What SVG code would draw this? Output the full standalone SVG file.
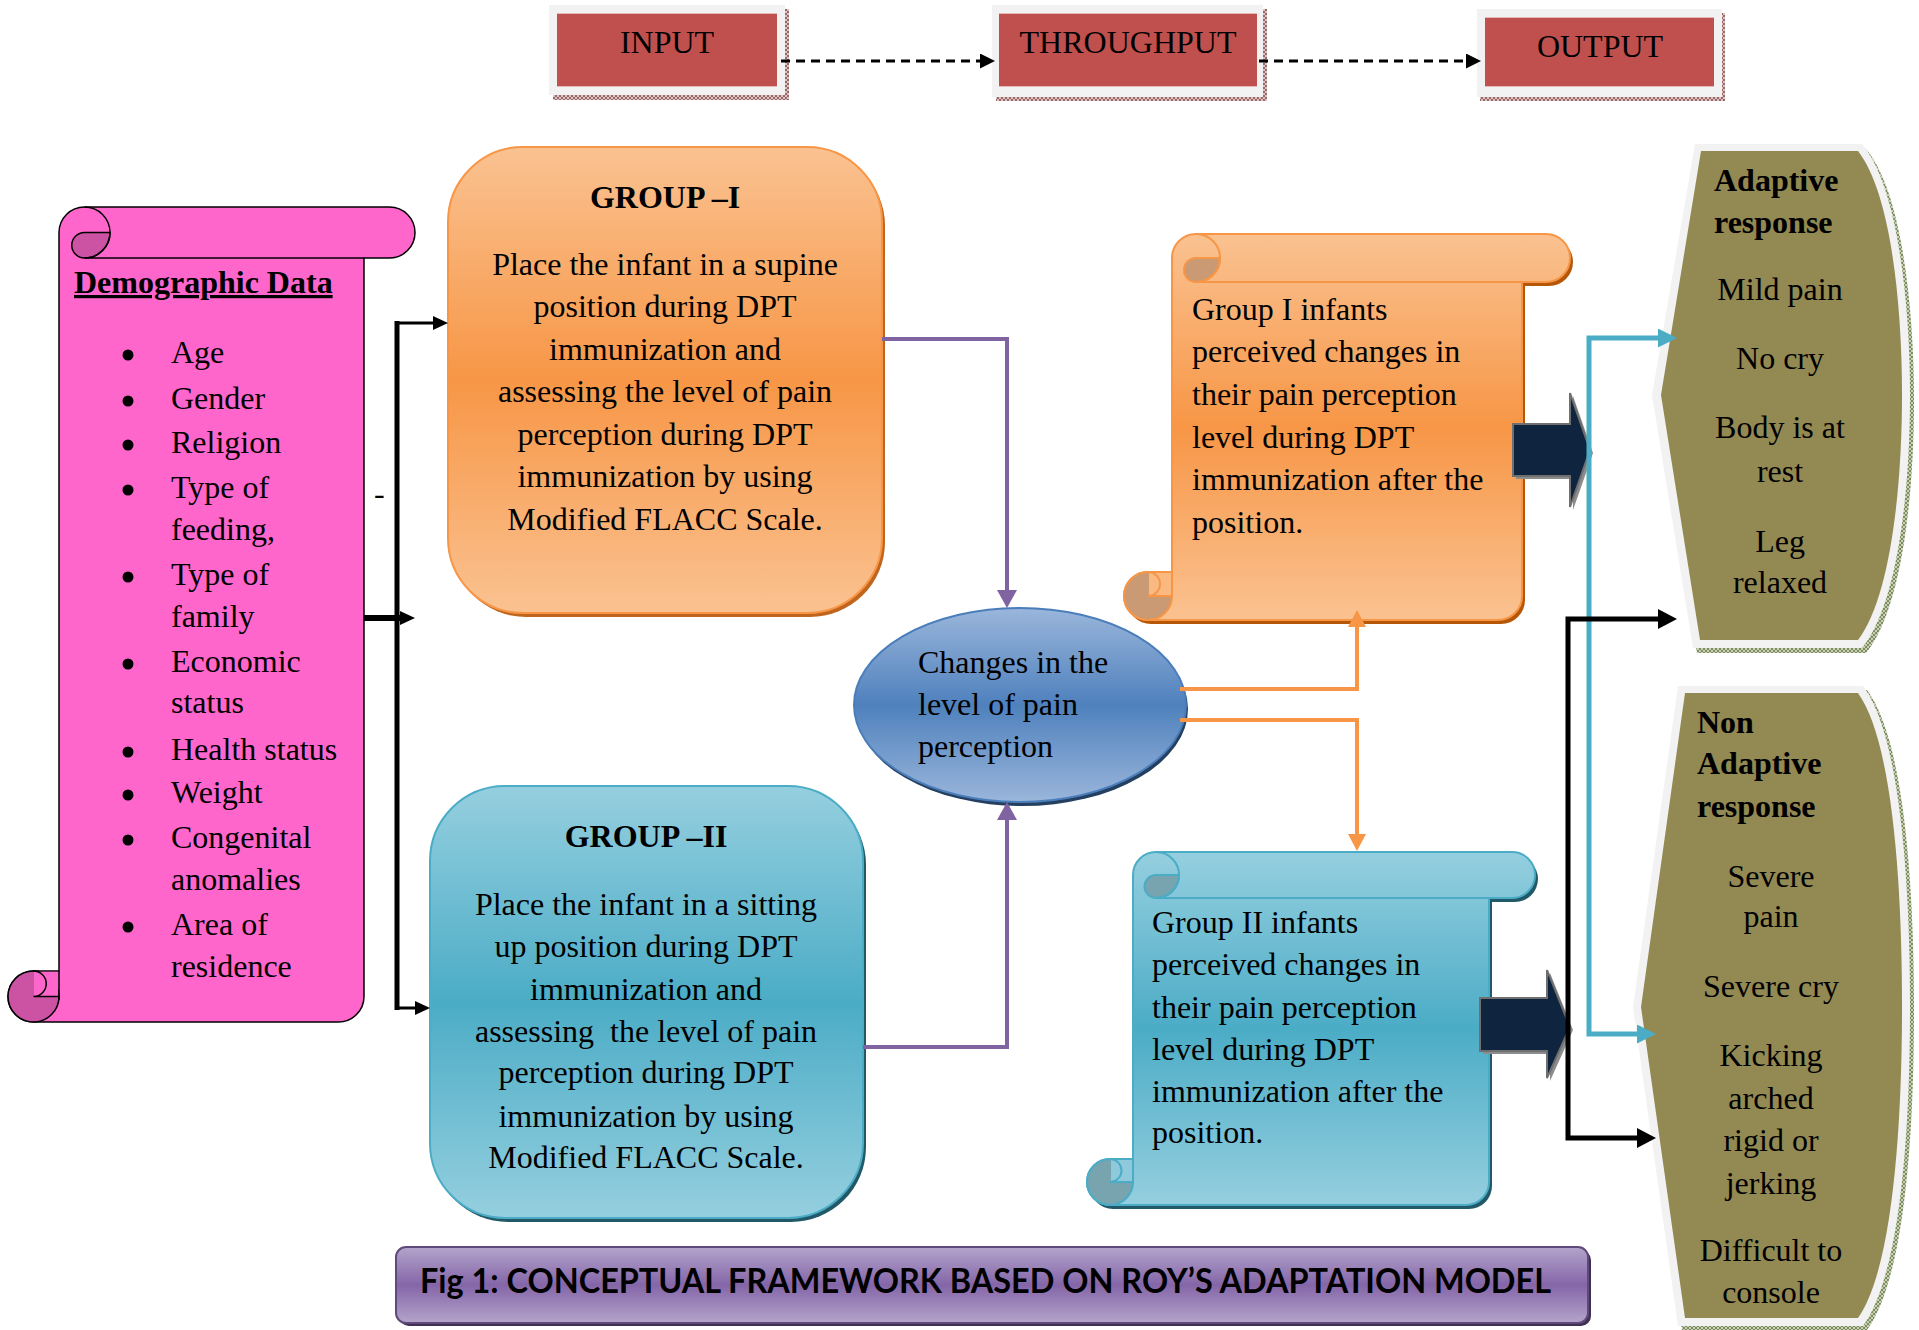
<svg xmlns="http://www.w3.org/2000/svg" width="1919" height="1330" viewBox="0 0 1919 1330">
<defs>
<style>
.t{font-family:"Liberation Serif","Times New Roman",serif;font-size:32px;fill:#000}
.b{font-weight:bold}
.c{text-anchor:middle}
.pre{white-space:pre}
.cap{font-family:Lato,"Open Sans","Liberation Sans",sans-serif;font-weight:bold;font-size:35px;fill:#000}
.conn{fill:none;stroke-linejoin:miter}
</style>
<pattern id="hatchR" width="4" height="4" patternUnits="userSpaceOnUse"><rect width="4" height="4" fill="#dcc3c3"/><path d="M0,0 L4,4 M4,0 L0,4" stroke="#8a5050" stroke-width="0.8"/></pattern>
<pattern id="hatchG" width="4" height="4" patternUnits="userSpaceOnUse"><rect width="4" height="4" fill="#c9d1b4"/><path d="M0,0 L4,4 M4,0 L0,4" stroke="#6a7a4a" stroke-width="0.8"/></pattern>
<linearGradient id="gOra" x1="0" y1="0" x2="0" y2="1"><stop offset="0" stop-color="#fac291"/><stop offset="0.5" stop-color="#f79646"/><stop offset="1" stop-color="#fac291"/></linearGradient>
<linearGradient id="gBlu" x1="0" y1="0" x2="0" y2="1"><stop offset="0" stop-color="#95cfdf"/><stop offset="0.5" stop-color="#4bacc6"/><stop offset="1" stop-color="#95cfdf"/></linearGradient>
<linearGradient id="gEll" x1="0" y1="0" x2="0" y2="1"><stop offset="0" stop-color="#9ab6db"/><stop offset="0.5" stop-color="#4f81bd"/><stop offset="1" stop-color="#9ab6db"/></linearGradient>
<linearGradient id="gPur" x1="0" y1="0" x2="0" y2="1"><stop offset="0" stop-color="#b4a4cb"/><stop offset="0.5" stop-color="#8466a8"/><stop offset="1" stop-color="#b4a4cb"/></linearGradient>
<marker id="mDash" markerUnits="userSpaceOnUse" viewBox="0 0 15 15" refX="2" refY="7.5" markerWidth="15" markerHeight="15" orient="auto"><path d="M0,0 L15,7.5 L0,15 Z" fill="#000"/></marker>
<marker id="mBlkS" markerUnits="userSpaceOnUse" viewBox="0 0 15 14" refX="2" refY="7" markerWidth="15" markerHeight="14" orient="auto"><path d="M0,0 L15,7 L0,14 Z" fill="#000"/></marker>
<marker id="mPur" markerUnits="userSpaceOnUse" viewBox="0 0 18 20" refX="2" refY="10" markerWidth="18" markerHeight="20" orient="auto"><path d="M0,0 L18,10 L0,20 Z" fill="#8064a2"/></marker>
<marker id="mOra" markerUnits="userSpaceOnUse" viewBox="0 0 17 18" refX="2" refY="9" markerWidth="17" markerHeight="18" orient="auto"><path d="M0,0 L17,9 L0,18 Z" fill="#f79646"/></marker>
<marker id="mCya" markerUnits="userSpaceOnUse" viewBox="0 0 19 19" refX="2" refY="9.5" markerWidth="19" markerHeight="19" orient="auto"><path d="M0,0 L19,9.5 L0,19 Z" fill="#4bacc6"/></marker>
<marker id="mBlkL" markerUnits="userSpaceOnUse" viewBox="0 0 19 20" refX="2" refY="10" markerWidth="19" markerHeight="20" orient="auto"><path d="M0,0 L19,10 L0,20 Z" fill="#000"/></marker>
</defs>
<rect width="1919" height="1330" fill="#fff"/>

<!-- Top stage boxes -->
<g id="input">
<rect x="553" y="9" width="236" height="91" fill="url(#hatchR)"/>
<rect x="549" y="5" width="236" height="90" fill="#f2f2f2"/>
<rect x="557" y="13" width="220" height="74" fill="#c0504d"/>
<path d="M557,13.5 H777 M557,86.5 H777" stroke="#e6b9b8" stroke-width="1"/>
<text class="t c" x="667" y="53">INPUT</text>
</g>
<g id="throughput">
<rect x="996" y="9" width="271" height="92" fill="url(#hatchR)"/>
<rect x="992" y="5" width="271" height="92" fill="#f2f2f2"/>
<rect x="999" y="13" width="258" height="74" fill="#c0504d"/>
<path d="M999,13.5 H1257 M999,86.5 H1257" stroke="#e6b9b8" stroke-width="1"/>
<text class="t c" x="1128" y="53">THROUGHPUT</text>
</g>
<g id="output">
<rect x="1480" y="13" width="245" height="88" fill="url(#hatchR)"/>
<rect x="1477" y="9" width="245" height="88" fill="#f2f2f2"/>
<rect x="1485" y="17" width="229" height="70" fill="#c0504d"/>
<path d="M1485,17.5 H1714 M1485,86.5 H1714" stroke="#e6b9b8" stroke-width="1"/>
<text class="t c" x="1600" y="57">OUTPUT</text>
</g>

<!-- Demographic scroll -->
<g id="demographic">
<path d="M33.5,1022 L338.5,1022 A25.5,25.5 0 0 0 364,996.5 L364,258 L389.5,258 A25.5,25.5 0 0 0 389.5,207 L84.5,207 A25.5,25.5 0 0 0 59,232.5 L59,971 L33.5,971 A25.5,25.5 0 0 0 33.5,1022 Z" fill="#ff66cc" stroke="#000" stroke-width="1.5"/>
<circle cx="33.5" cy="996.5" r="25.5" fill="#cc52a3" stroke="#000" stroke-width="1.5"/>
<rect x="34" y="971.8" width="24.3" height="24.7" fill="#ff66cc"/>
<path d="M33.5,971 A12.75,12.75 0 0 1 33.5,996.5 L59,996.5 M59,971 V1000" fill="none" stroke="#000" stroke-width="1.5"/>
<path d="M84.5,232.5 L110,232.5 A25.5,25.5 0 0 1 84.5,258 A12.75,12.75 0 0 1 84.5,232.5 Z" fill="#cc52a3" stroke="#000" stroke-width="1.5"/>
<path d="M84.5,207 A25.5,25.5 0 0 1 84.5,258 L364,258" fill="none" stroke="#000" stroke-width="1.5"/>
<text class="t b" x="74" y="293" text-decoration="underline">Demographic Data</text>
<g fill="#000">
<circle cx="128" cy="355" r="5.5"/><circle cx="128" cy="401" r="5.5"/><circle cx="128" cy="445" r="5.5"/><circle cx="128" cy="490" r="5.5"/><circle cx="128" cy="577" r="5.5"/><circle cx="128" cy="664" r="5.5"/><circle cx="128" cy="752" r="5.5"/><circle cx="128" cy="795" r="5.5"/><circle cx="128" cy="840" r="5.5"/><circle cx="128" cy="927" r="5.5"/>
</g>
<text class="t" x="171" y="363">Age</text>
<text class="t" x="171" y="409">Gender</text>
<text class="t" x="171" y="453">Religion</text>
<text class="t" x="171" y="498">Type of</text>
<text class="t" x="171" y="540">feeding,</text>
<text class="t" x="171" y="585">Type of</text>
<text class="t" x="171" y="627">family</text>
<text class="t" x="171" y="672">Economic</text>
<text class="t" x="171" y="713">status</text>
<text class="t" x="171" y="760">Health status</text>
<text class="t" x="171" y="803">Weight</text>
<text class="t" x="171" y="848">Congenital</text>
<text class="t" x="171" y="890">anomalies</text>
<text class="t" x="171" y="935">Area of</text>
<text class="t" x="171" y="977">residence</text>
</g>
<text class="t" x="374" y="504" font-size="16">-</text>

<!-- Group I -->
<g id="group1">
<rect x="451" y="151" width="434" height="466" rx="75" fill="#c0651e"/>
<rect x="448" y="147" width="434" height="466" rx="75" fill="url(#gOra)" stroke="#f79646" stroke-width="2"/>
<text class="t b c" x="665" y="208">GROUP –I</text>
<text class="t c" x="665" y="275">Place the infant in a supine</text>
<text class="t c" x="665" y="317">position during DPT</text>
<text class="t c" x="665" y="360">immunization and</text>
<text class="t c" x="665" y="402">assessing the level of pain</text>
<text class="t c" x="665" y="445">perception during DPT</text>
<text class="t c" x="665" y="487">immunization by using</text>
<text class="t c" x="665" y="530">Modified FLACC Scale.</text>
</g>

<!-- Group II -->
<g id="group2">
<rect x="433" y="790" width="433" height="432" rx="75" fill="#215968"/>
<rect x="430" y="786" width="433" height="432" rx="75" fill="url(#gBlu)" stroke="#4bacc6" stroke-width="2"/>
<text class="t b c" x="646" y="847">GROUP –II</text>
<text class="t c" x="646" y="915">Place the infant in a sitting</text>
<text class="t c" x="646" y="957">up position during DPT</text>
<text class="t c" x="646" y="1000">immunization and</text>
<text class="t c pre" x="646" y="1042">assessing  the level of pain</text>
<text class="t c" x="646" y="1083">perception during DPT</text>
<text class="t c" x="646" y="1127">immunization by using</text>
<text class="t c" x="646" y="1168">Modified FLACC Scale.</text>
</g>

<!-- Ellipse -->
<g id="changes">
<ellipse cx="1022" cy="709" rx="166" ry="97" fill="#243f60"/>
<ellipse cx="1020" cy="705" rx="166" ry="97" fill="url(#gEll)" stroke="#4a7ebb" stroke-width="2"/>
<text class="t" x="918" y="673">Changes in the</text>
<text class="t" x="918" y="715">level of pain</text>
<text class="t" x="918" y="757">perception</text>
</g>

<!-- Group I infants scroll -->
<g id="group1-result">
<path transform="translate(3,4)" d="M1148,620 L1498,620 A24,24 0 0 0 1522,596 L1522,282 L1546,282 A24,24 0 0 0 1546,234 L1196,234 A24,24 0 0 0 1172,258 L1172,572 L1148,572 A24,24 0 0 0 1148,620 Z" fill="#b65708"/>
<path d="M1148,620 L1498,620 A24,24 0 0 0 1522,596 L1522,282 L1546,282 A24,24 0 0 0 1546,234 L1196,234 A24,24 0 0 0 1172,258 L1172,572 L1148,572 A24,24 0 0 0 1148,620 Z" fill="url(#gOra)" stroke="#f79646" stroke-width="2"/>
<circle cx="1148" cy="596" r="24" fill="#c99a73" stroke="#f79646" stroke-width="2"/>
<rect x="1149" y="573" width="22.5" height="22.5" fill="#f9b980"/>
<path d="M1148,572 A12,12 0 0 1 1148,596 L1172,596 M1172,571 V598" fill="none" stroke="#f79646" stroke-width="2"/>
<path d="M1196,258 L1220,258 A24,24 0 0 1 1196,282 A12,12 0 0 1 1196,258 Z" fill="#c99a73" stroke="#f79646" stroke-width="2"/>
<path d="M1196,234 A24,24 0 0 1 1196,282 L1522,282" fill="none" stroke="#f79646" stroke-width="2"/>
<text class="t" x="1192" y="320">Group I infants</text>
<text class="t" x="1192" y="362">perceived changes in</text>
<text class="t" x="1192" y="405">their pain perception</text>
<text class="t" x="1192" y="448">level during DPT</text>
<text class="t" x="1192" y="490">immunization after the</text>
<text class="t" x="1192" y="533">position.</text>
</g>

<!-- Group II infants scroll -->
<g id="group2-result">
<path transform="translate(3,4)" d="M1110,1205 L1466,1205 A23,23 0 0 0 1489,1182 L1489,898 L1512,898 A23,23 0 0 0 1512,852 L1156,852 A23,23 0 0 0 1133,875 L1133,1159 L1110,1159 A23,23 0 0 0 1110,1205 Z" fill="#215968"/>
<path d="M1110,1205 L1466,1205 A23,23 0 0 0 1489,1182 L1489,898 L1512,898 A23,23 0 0 0 1512,852 L1156,852 A23,23 0 0 0 1133,875 L1133,1159 L1110,1159 A23,23 0 0 0 1110,1205 Z" fill="url(#gBlu)" stroke="#4bacc6" stroke-width="2"/>
<circle cx="1110" cy="1182" r="23" fill="#78a4b0" stroke="#4bacc6" stroke-width="2"/>
<rect x="1111" y="1160" width="21.5" height="21.5" fill="#8ecadb"/>
<path d="M1110,1159 A11.5,11.5 0 0 1 1110,1182 L1133,1182 M1133,1158 V1184" fill="none" stroke="#4bacc6" stroke-width="2"/>
<path d="M1156,875 L1179,875 A23,23 0 0 1 1156,898 A11.5,11.5 0 0 1 1156,875 Z" fill="#78a4b0" stroke="#4bacc6" stroke-width="2"/>
<path d="M1156,852 A23,23 0 0 1 1156,898 L1489,898" fill="none" stroke="#4bacc6" stroke-width="2"/>
<text class="t" x="1152" y="933">Group II infants</text>
<text class="t" x="1152" y="975">perceived changes in</text>
<text class="t" x="1152" y="1018">their pain perception</text>
<text class="t" x="1152" y="1060">level during DPT</text>
<text class="t" x="1152" y="1102">immunization after the</text>
<text class="t" x="1152" y="1143">position.</text>
</g>

<!-- Adaptive response -->
<g id="adaptive">
<path transform="translate(4,5)" d="M1695,144 L1862,144 C1897,185 1910,300 1910,395 C1910,495 1897,605 1862,648 L1693,648 L1652,395 Z" fill="url(#hatchG)"/>
<path d="M1695,144 L1862,144 C1897,185 1910,300 1910,395 C1910,495 1897,605 1862,648 L1693,648 L1652,395 Z" fill="#f2f2f2"/>
<path d="M1701,151 L1858,151 C1890,192 1902,300 1902,395 C1902,490 1890,598 1858,640 L1700,640 L1661,395 Z" fill="#938953"/>
<text class="t b" x="1714" y="191">Adaptive</text>
<text class="t b" x="1714" y="233">response</text>
<text class="t c" x="1780" y="300">Mild pain</text>
<text class="t c" x="1780" y="369">No cry</text>
<text class="t c" x="1780" y="438">Body is at</text>
<text class="t c" x="1780" y="482">rest</text>
<text class="t c" x="1780" y="552">Leg</text>
<text class="t c" x="1780" y="593">relaxed</text>
</g>

<!-- Non adaptive response -->
<g id="nonadaptive">
<path transform="translate(4,4)" d="M1678,686 L1863,686 C1900,735 1910,880 1910,1007 C1910,1135 1900,1275 1863,1326 L1678,1326 L1633,1007 Z" fill="url(#hatchG)"/>
<path d="M1678,686 L1863,686 C1900,735 1910,880 1910,1007 C1910,1135 1900,1275 1863,1326 L1678,1326 L1633,1007 Z" fill="#f2f2f2"/>
<path d="M1685,693 L1858,693 C1892,740 1902,880 1902,1007 C1902,1130 1892,1270 1858,1318 L1685,1318 L1641,1007 Z" fill="#938953"/>
<text class="t b" x="1697" y="733">Non</text>
<text class="t b" x="1697" y="774">Adaptive</text>
<text class="t b" x="1697" y="817">response</text>
<text class="t c" x="1771" y="887">Severe</text>
<text class="t c" x="1771" y="927">pain</text>
<text class="t c" x="1771" y="997">Severe cry</text>
<text class="t c" x="1771" y="1066">Kicking</text>
<text class="t c" x="1771" y="1109">arched</text>
<text class="t c" x="1771" y="1151">rigid or</text>
<text class="t c" x="1771" y="1194">jerking</text>
<text class="t c" x="1771" y="1261">Difficult to</text>
<text class="t c" x="1771" y="1303">console</text>
</g>

<!-- Caption -->
<g id="caption">
<rect x="399" y="1250" width="1192" height="76" rx="10" fill="#3f3151"/>
<rect x="396" y="1247" width="1192" height="76" rx="10" fill="url(#gPur)" stroke="#604a7b" stroke-width="2"/>
<text class="cap" x="420" y="1293" textLength="1131" lengthAdjust="spacingAndGlyphs">Fig 1: CONCEPTUAL FRAMEWORK BASED ON ROY’S ADAPTATION MODEL</text>
</g>

<!-- Connectors -->
<g id="connectors" class="conn">
<path d="M781,61 H982" stroke="#000" stroke-width="3" stroke-dasharray="9 6" marker-end="url(#mDash)"/>
<path d="M1259,61 H1468" stroke="#000" stroke-width="3" stroke-dasharray="9 6" marker-end="url(#mDash)"/>
<path d="M397,321 V1010" stroke="#000" stroke-width="5"/>
<path d="M397,323 H435" stroke="#000" stroke-width="3" marker-end="url(#mBlkS)"/>
<path d="M397,1008 H417" stroke="#000" stroke-width="3" marker-end="url(#mBlkS)"/>
<path d="M364,618 H402" stroke="#000" stroke-width="6" marker-end="url(#mBlkS)"/>
<path d="M882,339 H1007 V592" stroke="#8064a2" stroke-width="4" marker-end="url(#mPur)"/>
<path d="M863,1047 H1007 V818" stroke="#8064a2" stroke-width="4" marker-end="url(#mPur)"/>
<path d="M1180,689 H1357 V625" stroke="#f79646" stroke-width="4" marker-end="url(#mOra)"/>
<path d="M1180,720 H1357 V836" stroke="#f79646" stroke-width="4" marker-end="url(#mOra)"/>
<g id="arrow-g1">
<polygon transform="translate(3,3)" points="1513,424 1570,424 1570,393 1590,450 1570,507 1570,476 1513,476" fill="#8c8c8c"/>
<polygon points="1513,424 1570,424 1570,393 1590,450 1570,507 1570,476 1513,476" fill="#0f243e" stroke="#6f6f6f" stroke-width="2"/>
</g>
<g id="arrow-g2">
<polygon transform="translate(3,3)" points="1480,998 1547,998 1547,970 1570,1027 1547,1078 1547,1051 1480,1051" fill="#8c8c8c"/>
<polygon points="1480,998 1547,998 1547,970 1570,1027 1547,1078 1547,1051 1480,1051" fill="#0f243e" stroke="#6f6f6f" stroke-width="2"/>
</g>
<path d="M1589,690 V338 H1660" stroke="#4bacc6" stroke-width="5" marker-end="url(#mCya)"/>
<path d="M1589,690 V1034 H1639" stroke="#4bacc6" stroke-width="5" marker-end="url(#mCya)"/>
<path d="M1568,880 V619 H1660" stroke="#000" stroke-width="5" marker-end="url(#mBlkL)"/>
<path d="M1568,880 V1138 H1639" stroke="#000" stroke-width="5" marker-end="url(#mBlkL)"/>
</g>
</svg>
